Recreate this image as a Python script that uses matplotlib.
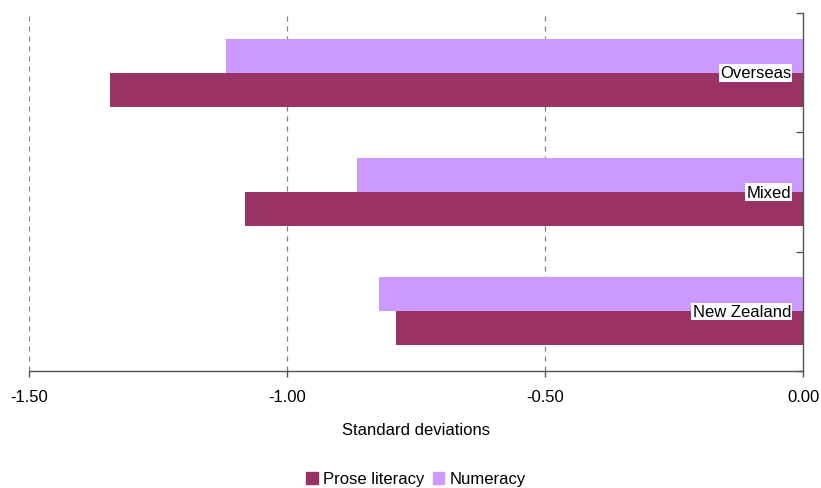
import numpy as np
import matplotlib.pyplot as plt
from matplotlib.patches import Patch

plt.rcParams['font.family'] = ['Liberation Sans', 'DejaVu Sans']

groups = ['New Zealand', 'Mixed', 'Overseas']
prose = [-0.789, -1.081, -1.343]
numeracy = [-0.822, -0.864, -1.118]
xticks = [-1.5, -1.0, -0.5, 0.0]

c_prose = '#993366'
c_num = '#CC99FF'

fig = plt.figure(figsize=(8.21, 4.89), dpi=100)
ax = fig.add_axes([29 / 821, 1 - 372 / 489, (803 - 29) / 821, (372 - 14) / 489])

y = np.arange(len(groups))
h = 0.284
ax.barh(y - h / 2, prose, height=h, color=c_prose, zorder=2)
ax.barh(y + h / 2, numeracy, height=h, color=c_num, zorder=2)

for i, g in enumerate(groups):
    ax.text(-0.023, y[i], g, ha='right', va='center', fontsize=12, zorder=4,
            bbox=dict(facecolor='white', edgecolor='none', pad=1.0))

ax.set_xlim(-1.5, 0.0)
ax.set_ylim(-0.5, len(groups) - 0.5)
ax.set_xticks(xticks)
ax.set_xticklabels(['%.2f' % v for v in xticks], fontsize=12)
ax.set_yticks(np.arange(len(groups) + 1) - 0.5)
ax.set_yticklabels([])
ax.yaxis.tick_right()
ax.tick_params(axis='y', direction='in', length=5, color='#555555', width=1)
ax.tick_params(axis='x', direction='out', length=4, color='#555555', width=1, pad=9)

for v in xticks[:-1]:
    ax.axvline(v, color='#808080', linestyle=(0, (4, 4)), linewidth=0.9, zorder=1)

for s in ['top', 'left']:
    ax.spines[s].set_visible(False)
for s in ['bottom', 'right']:
    ax.spines[s].set_color('#555555')
    ax.spines[s].set_linewidth(1)

ax.set_xlabel('Standard deviations', fontsize=12, labelpad=13)

handles = [Patch(color=c_prose, label='Prose literacy'), Patch(color=c_num, label='Numeracy')]
fig.legend(handles=handles, loc='center', bbox_to_anchor=(416 / 821, 1 - 480 / 489), ncol=2,
           frameon=False, fontsize=12, handlelength=0.7, handleheight=0.7,
           handletextpad=0.3, columnspacing=0.5)

fig.savefig('out.png', dpi=100)
